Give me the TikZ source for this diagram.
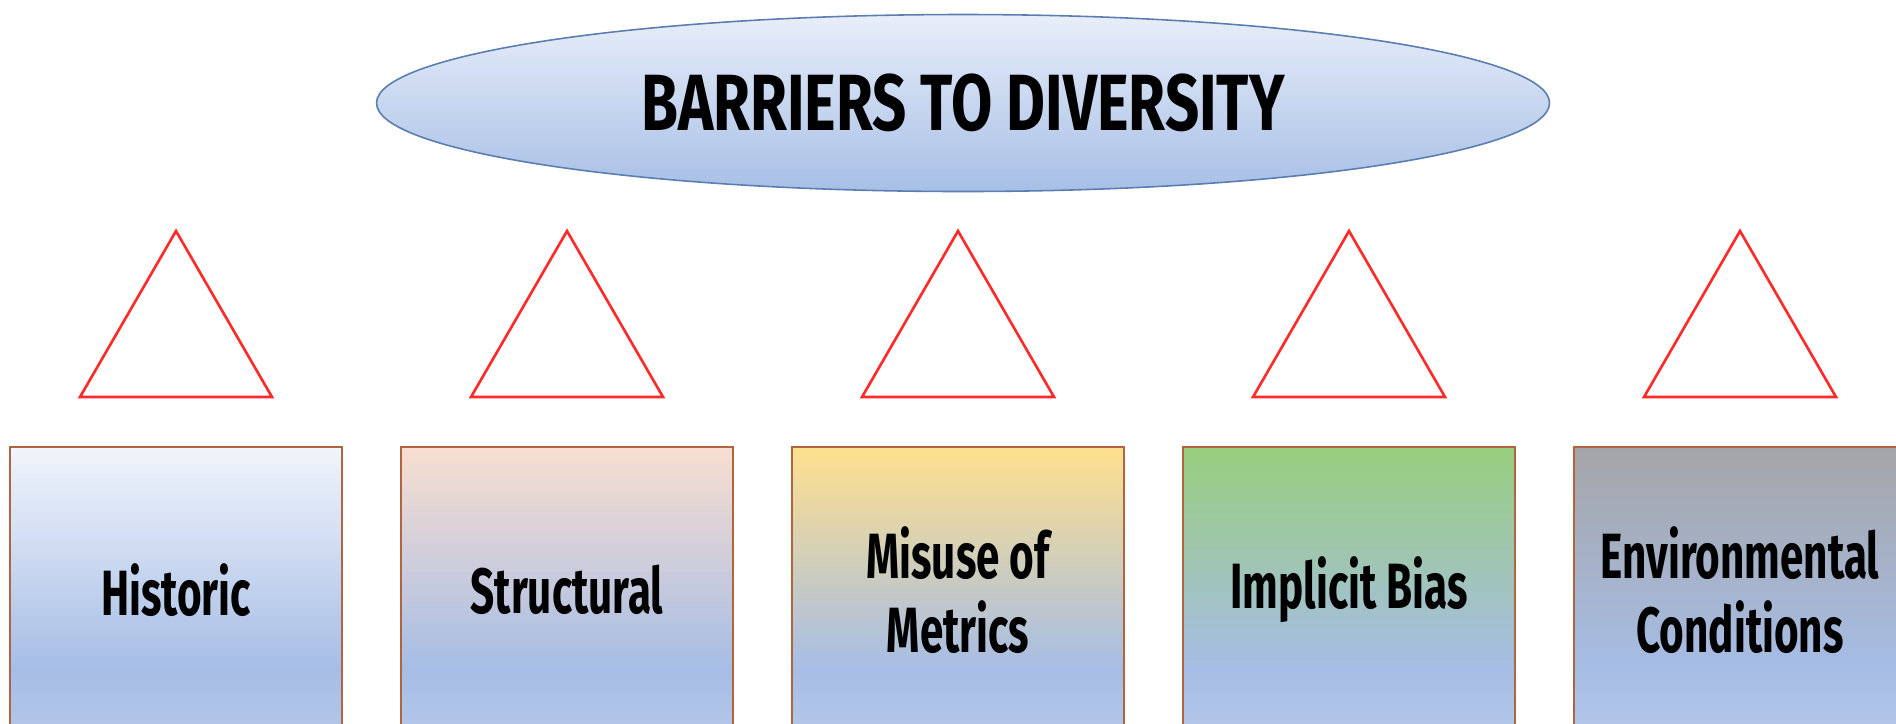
\documentclass[tikz,border=0pt]{standalone}
\usepackage{fontspec}
\setmainfont{Fira Sans}
\newfontfamily\headfont{Fira Sans}[FakeStretch=0.75]
\newfontfamily\cellfont{Fira Sans}[FakeStretch=0.66]
\usetikzlibrary{shapes}
\definecolor{edgebrown}{HTML}{B0653F}
\definecolor{ellblue}{HTML}{5B7DB1}
\definecolor{elltop}{HTML}{E8EEF9}
\definecolor{ellbottom}{HTML}{A7BFE6}
\definecolor{boxblue}{HTML}{A6BDE5}
\definecolor{boxfoot}{HTML}{D4E0F3}
\definecolor{warnred}{HTML}{FF2A2A}
\definecolor{histtop}{HTML}{F1F5FC}
\definecolor{structtop}{HTML}{F8DED0}
\definecolor{metrictop}{HTML}{FEE08E}
\definecolor{biastop}{HTML}{98CE7E}
\definecolor{envtop}{HTML}{A5A5A8}
\tikzset{
  warnline/.style={draw=warnred, line width=0.75pt, line join=miter},
  barrier/.style={shape=rectangle, draw=edgebrown, line width=0.6pt, anchor=north,
    minimum width=33.2mm, minimum height=44.4mm, inner sep=0pt, bottom color=boxfoot},
  barrierlabel/.style={draw=none, fill=none, inner sep=0pt, align=center,
    font=\cellfont\bfseries\fontsize{18.2}{21}\selectfont}
}
\newcommand{\warntri}[1]{\draw[warnline] ( #1 , 231 ) -- ++( 96 , 166 ) -- ++( -192 , 0 ) -- cycle;}
\newcommand{\barrierbox}[3]{\node[barrier, top color=#3, middle color=boxblue] (#1) at ( #2 , 446 ) {};}
\newcommand{\barrierlabel}[3]{\node[barrierlabel] (#1) at ( #2 , 590 ) {#3};}

\begin{document}
\begin{tikzpicture}[x=0.1mm, y=-0.1mm]
        \useasboundingbox ( 0 , 0 ) rectangle ( 1896 , 723 );
        \clip ( 0 , 0 ) rectangle ( 1896 , 723 );
        \fill[white] ( 0 , 0 ) rectangle ( 1896 , 723 );

        % title
        \node[ellipse, draw=ellblue, line width=0.45pt, minimum width=117.3mm, minimum height=17.7mm,
          top color=elltop, bottom color=ellbottom,
          font=\headfont\bfseries\fontsize{22.7}{26}\selectfont] (title) at ( 963 , 103 ) {BARRIERS TO DIVERSITY};

        % triangles
        \warntri{176}
        \warntri{567}
        \warntri{958}
        \warntri{1349}
        \warntri{1740}

        % boxes
        \barrierbox{historic}{176}{histtop}
        \barrierbox{structural}{567}{structtop}
        \barrierbox{metrics}{958}{metrictop}
        \barrierbox{implicit}{1349}{biastop}
        \barrierbox{environ}{1740}{envtop}

        % labels
        \barrierlabel{historictxt}{176}{Historic}
        \barrierlabel{structuraltxt}{567}{Structural}
        \barrierlabel{metricstxt}{958}{Misuse of\\Metrics}
        \barrierlabel{implicittxt}{1349}{Implicit Bias}
        \barrierlabel{environtxt}{1740}{Environmental\\Conditions}
\end{tikzpicture}
\end{document}
